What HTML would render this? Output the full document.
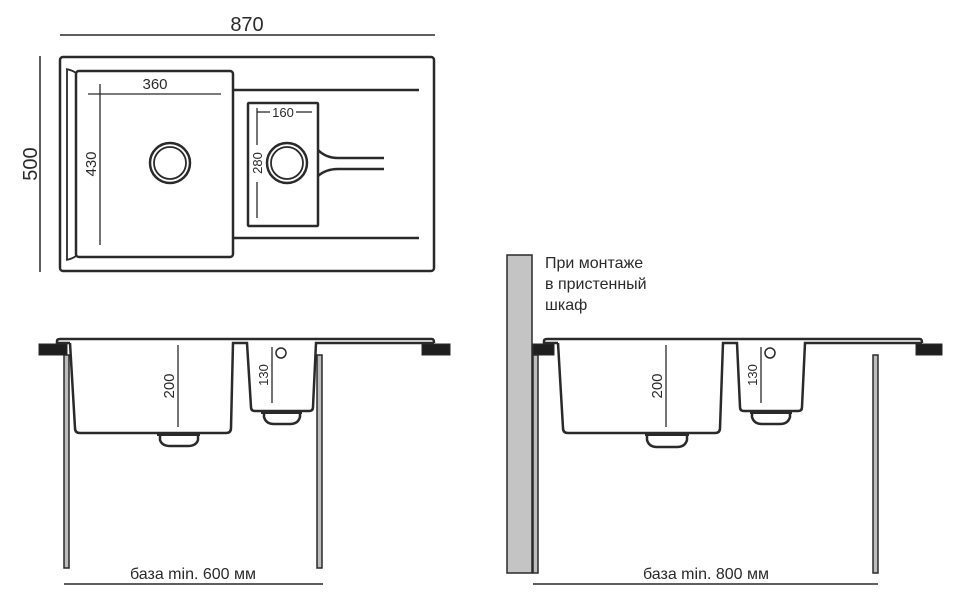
<!DOCTYPE html>
<html><head><meta charset="utf-8"><style>
html,body{margin:0;padding:0;background:#fff;}
svg{display:block;}
text{font-family:"Liberation Sans","DejaVu Sans",sans-serif;fill:#2a2a2a;}
</style></head><body>
<svg width="972" height="616" viewBox="0 0 972 616" xmlns="http://www.w3.org/2000/svg">
<g stroke="#2a2a2a" fill="none">
<line x1="60" y1="35" x2="435" y2="35" stroke-width="1.5"/>
<line x1="40" y1="56" x2="40" y2="272" stroke-width="1.5"/>
<rect x="60" y="57" width="374" height="214" rx="3" stroke-width="2.5"/>
<path d="M66 69 Q72 70 76 73 M67 69 L67 260 M66 260 Q72 259 76 256" stroke-width="1.8"/>
<rect x="76" y="71" width="157" height="186" rx="3" stroke-width="2.5"/>
<line x1="88" y1="94" x2="221" y2="94" stroke-width="1.3"/>
<line x1="100" y1="84" x2="100" y2="245" stroke-width="1.3"/>
<circle cx="170" cy="163" r="20" stroke-width="2.5"/>
<circle cx="170" cy="163" r="16" stroke-width="1.8"/>
<line x1="234" y1="90" x2="419" y2="90" stroke-width="2.5"/>
<line x1="234" y1="238" x2="419" y2="238" stroke-width="2.5"/>
<rect x="248" y="103" width="70" height="123" rx="1" stroke-width="2.5"/>
<line x1="257" y1="112" x2="270" y2="112" stroke-width="1.3"/>
<line x1="296" y1="112" x2="312" y2="112" stroke-width="1.3"/>
<line x1="257" y1="108" x2="257" y2="145" stroke-width="1.3"/>
<line x1="257" y1="182" x2="257" y2="218" stroke-width="1.3"/>
<circle cx="287" cy="163" r="20" stroke-width="2.5"/>
<circle cx="287" cy="163" r="16" stroke-width="1.8"/>
<path d="M318 150 Q326 158 338 158 L384 158 M318 176 Q326 169 338 169 L384 169" stroke-width="2.5"/>
</g>
<text x="247" y="31" font-size="20" text-anchor="middle">870</text>
<text transform="translate(37,164) rotate(-90)" font-size="20" text-anchor="middle">500</text>
<text x="155" y="89" font-size="15" text-anchor="middle">360</text>
<text transform="translate(96,164) rotate(-90)" font-size="15" text-anchor="middle">430</text>
<text x="283" y="117" font-size="13" text-anchor="middle">160</text>
<text transform="translate(262,163) rotate(-90)" font-size="13" text-anchor="middle">280</text>

<g stroke="#2a2a2a">
<rect x="64" y="355" width="5" height="213" fill="#bdbdbd" stroke-width="1.5"/>
<rect x="317" y="355" width="5" height="213" fill="#bdbdbd" stroke-width="1.5"/>
<rect x="39" y="344" width="28" height="11" fill="#1e1e1e"/>
<rect x="422" y="344" width="28" height="11" fill="#1e1e1e"/>
<g fill="none" stroke-width="2.5">
<path d="M57 344 L57 341 Q57 339 60 339 L432 339 Q434 339 434 343 M57 343 L70 343"/>
<path d="M70 343 L75 428 Q75 433 80 433 L226 433 Q231 433 231 428 L233 343 L247 343 L251 407 Q251 411 255 411 L309 411 Q313 411 313 407 L316 343 L434 343"/>
<path d="M160 433 L160 440 Q162 446 170 446 L188 446 Q196 446 198 440 L198 433"/>
<path d="M264 411 L264 417 Q266 424 274 424 L290 424 Q298 424 300 417 L300 411"/>
</g>
<rect x="157" y="432" width="43" height="4" fill="#2a2a2a" stroke="none"/>
<rect x="261" y="410" width="41" height="4" fill="#2a2a2a" stroke="none"/>
<line x1="178" y1="345" x2="178" y2="427" stroke-width="1.3"/>
<line x1="272" y1="347" x2="272" y2="403" stroke-width="1.3"/>
<circle cx="281" cy="353" r="5" fill="none" stroke-width="1.5"/>
<line x1="64" y1="584" x2="323" y2="584" stroke-width="1.5"/>
</g>
<text transform="translate(174,386) rotate(-90)" font-size="15" text-anchor="middle">200</text>
<text transform="translate(268,375) rotate(-90)" font-size="13" text-anchor="middle">130</text>
<text x="193" y="579" font-size="16" text-anchor="middle">база min. 600 мм</text>

<g stroke="#2a2a2a">
<rect x="507" y="255" width="25" height="318" fill="#c4c4c4" stroke-width="1.5"/>
<rect x="533" y="355" width="5" height="218" fill="#bdbdbd" stroke-width="1.5"/>
<rect x="873" y="355" width="5" height="218" fill="#bdbdbd" stroke-width="1.5"/>
<rect x="533" y="344" width="21" height="11" fill="#1e1e1e"/>
<rect x="916" y="344" width="26" height="11" fill="#1e1e1e"/>
<g fill="none" stroke-width="2.5">
<path d="M544 344 L544 341 Q544 339 547 339 L920 339 Q922 339 922 343 M544 343 L558 343"/>
<path d="M558 343 L563 428 Q563 433 568 433 L715 433 Q720 433 720 428 L723 343 L737 343 L740 407 Q740 411 744 411 L798 411 Q802 411 802 407 L805 343 L922 343"/>
<path d="M647 433 L647 440 Q649 447 657 447 L677 447 Q685 447 687 440 L687 433"/>
<path d="M752 411 L752 417 Q754 424 762 424 L780 424 Q788 424 790 417 L790 411"/>
</g>
<rect x="645" y="432" width="44" height="4" fill="#2a2a2a" stroke="none"/>
<rect x="750" y="410" width="42" height="4" fill="#2a2a2a" stroke="none"/>
<line x1="666" y1="345" x2="666" y2="427" stroke-width="1.3"/>
<line x1="761" y1="347" x2="761" y2="403" stroke-width="1.3"/>
<circle cx="770" cy="353" r="5" fill="none" stroke-width="1.5"/>
<line x1="533" y1="584" x2="878" y2="584" stroke-width="1.5"/>
</g>
<text transform="translate(662,386) rotate(-90)" font-size="15" text-anchor="middle">200</text>
<text transform="translate(757,375) rotate(-90)" font-size="13" text-anchor="middle">130</text>
<text x="706" y="579" font-size="16" text-anchor="middle">база min. 800 мм</text>
<text x="545" y="268" font-size="16">При монтаже</text>
<text x="545" y="289" font-size="16">в пристенный</text>
<text x="545" y="310" font-size="16">шкаф</text>
</svg>
</body></html>
